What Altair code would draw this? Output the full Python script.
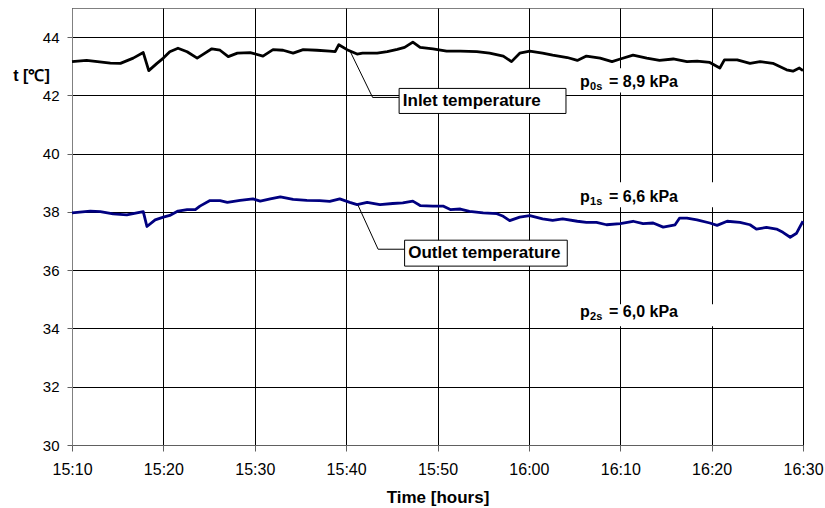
import altair as alt
import pandas as pd

# ---- data (minutes after 15:10, temperature in °C) ----
inlet_t = [0, 1.6, 4.2, 5.3, 6.7, 7.8, 8.4, 9.3, 10.0, 10.7, 11.6, 12.6, 13.7, 14.3, 15.3, 16.2,
           17.1, 18.1, 19.5, 20.9, 22.0, 23.1, 24.2, 25.3, 26.8, 28.2, 28.8, 29.2, 30.1, 31.2,
           31.8, 33.4, 34.5, 35.6, 36.4, 37.3, 38.1, 39.5, 41.0, 42.5, 44.3, 45.7, 47.2, 48.1,
           49.0, 50.1, 51.5, 52.6, 54.2, 55.3, 56.3, 57.8, 59.1, 60.0, 61.4, 62.9, 64.3, 65.8,
           67.3, 68.4, 69.8, 70.9, 71.4, 72.8, 74.2, 75.3, 76.7, 78.2, 78.9, 79.6, 80]
inlet_v = [43.16, 43.2, 43.11, 43.1, 43.28, 43.47, 42.85, 43.1, 43.28, 43.5, 43.62, 43.5, 43.28,
           43.4, 43.6, 43.55, 43.33, 43.45, 43.47, 43.35, 43.57, 43.55, 43.45, 43.57, 43.55,
           43.52, 43.5, 43.74, 43.57, 43.42, 43.45, 43.45, 43.5, 43.58, 43.65, 43.83, 43.65,
           43.6, 43.52, 43.52, 43.5, 43.45, 43.35, 43.16, 43.45, 43.52, 43.45, 43.38, 43.3,
           43.2, 43.35, 43.28, 43.16, 43.25, 43.38, 43.28, 43.2, 43.25, 43.16, 43.18, 43.13,
           42.94, 43.22, 43.22, 43.1, 43.16, 43.1, 42.88, 42.83, 42.94, 42.85]

outlet_t = [0, 2.0, 3.1, 4.5, 6.0, 7.1, 7.8, 8.2, 9.1, 10.0, 10.7, 11.6, 12.6, 13.5, 14.0, 15.1,
            16.2, 17.0, 18.4, 19.8, 20.6, 21.7, 22.8, 24.2, 25.7, 27.1, 28.2, 29.3, 30.4, 31.2,
            32.3, 33.7, 35.1, 36.2, 37.3, 38.1, 39.5, 40.6, 41.4, 42.5, 43.5, 45.0, 46.5, 47.2,
            47.9, 49.0, 50.1, 51.5, 52.6, 53.7, 55.3, 56.3, 57.4, 58.5, 60.0, 61.4, 62.5, 63.6,
            64.7, 66.0, 66.5, 67.3, 68.4, 69.8, 70.6, 71.7, 73.1, 74.2, 74.9, 76.0, 77.1, 77.8,
            78.6, 79.3, 79.6, 80]
outlet_v = [37.97, 38.03, 38.01, 37.93, 37.9, 37.97, 38.01, 37.5, 37.73, 37.82, 37.88, 38.03,
            38.08, 38.08, 38.2, 38.39, 38.39, 38.33, 38.4, 38.45, 38.37, 38.45, 38.52, 38.43,
            38.4, 38.39, 38.36, 38.45, 38.33, 38.25, 38.33, 38.25, 38.29, 38.31, 38.37, 38.22,
            38.2, 38.2, 38.08, 38.1, 38.02, 37.97, 37.94, 37.85, 37.7, 37.82, 37.87, 37.76,
            37.71, 37.76, 37.68, 37.64, 37.64, 37.56, 37.6, 37.68, 37.6, 37.62, 37.48, 37.56,
            37.79, 37.79, 37.73, 37.62, 37.54, 37.68, 37.64, 37.56, 37.41, 37.47, 37.41, 37.3,
            37.13, 37.27, 37.45, 37.68]

x_ticks = [0, 10, 20, 30, 40, 50, 60, 70, 80]
y_ticks = [30, 32, 34, 36, 38, 40, 42, 44]

# annotation callouts
callout_text = ["Inlet temperature", "Outlet temperature"]
callout_x1 = [35.8, 36.4]
callout_x2 = [54.06, 54.2]
callout_y1 = [42.24, 37.03]
callout_y2 = [41.38, 36.14]
callout_tx = [36.2, 36.8]
callout_ty = [41.81, 36.58]
leader_group = ["in", "in", "in", "out", "out", "out"]
leader_t = [30.4, 32.9, 35.8, 31.3, 33.5, 36.4]
leader_v = [43.54, 41.93, 41.93, 38.23, 36.72, 36.72]

# pressure labels
p_sub = ["0s", "1s", "2s"]
p_val = ["= 8,9 kPa", "= 6,6 kPa", "= 6,0 kPa"]
p_x = [55.6, 55.6, 55.6]
p_y = [42.29, 38.34, 34.4]
pbox_x1 = [55.0, 55.0, 55.0]
pbox_x2 = [67.6, 70.6, 70.3]
pbox_y1 = [42.93, 39.02, 34.83]
pbox_y2 = [42.10, 38.16, 34.08]

FONT = "Liberation Sans"

lines_df = pd.concat([
    pd.DataFrame({"t": inlet_t, "v": inlet_v, "s": "Inlet"}),
    pd.DataFrame({"t": outlet_t, "v": outlet_v, "s": "Outlet"}),
])
callout_df = pd.DataFrame({"text": callout_text, "x1": callout_x1, "x2": callout_x2,
                           "y1": callout_y1, "y2": callout_y2, "tx": callout_tx, "ty": callout_ty})
leader_df = pd.DataFrame({"g": leader_group, "t": leader_t, "v": leader_v})
p_df = pd.DataFrame({"sub": p_sub, "val": p_val, "x": p_x, "y": p_y,
                     "x1": pbox_x1, "x2": pbox_x2, "y1": pbox_y1, "y2": pbox_y2})

label_expr = ("floor((910+datum.value)/60) + ':' + "
              "(((910+datum.value)%60) < 10 ? '0' : '') + ((910+datum.value)%60)")

xscale = alt.Scale(domain=[0, 80], nice=False, zero=False)
yscale = alt.Scale(domain=[30, 45], nice=False, zero=False)

x_enc = alt.X("t:Q", scale=xscale,
              axis=alt.Axis(values=x_ticks, labelExpr=label_expr, title="Time [hours]",
                            grid=True, gridColor="#000000", gridWidth=1,
                            domainColor="#606060", tickColor="#606060", tickSize=6,
                            labelFontSize=16, labelPadding=10, labelColor="#000",
                            labelAlign="center", labelFlush=False, labelOverlap=False,
                            titleFontSize=17, titleFontWeight="bold", titlePadding=12,
                            titleColor="#000", labelFont=FONT, titleFont=FONT))
y_enc = alt.Y("v:Q", scale=yscale,
              axis=alt.Axis(values=y_ticks, title="t [℃]", grid=True, gridColor="#000000",
                            gridWidth=1, domainColor="#808080", tickColor="#606060",
                            tickSize=5, labelFontSize=15, labelPadding=8, labelColor="#000",
                            labelFlush=False,
                            titleAngle=0, titleX=-41, titleY=72, titleAlign="center",
                            titleBaseline="alphabetic", titleFontSize=16,
                            titleFontWeight="bold", titleColor="#000",
                            labelFont=FONT, titleFont=FONT))

base_lines = alt.Chart(lines_df).mark_line(strokeWidth=2.8, strokeJoin="round").encode(
    x=x_enc, y=y_enc,
    color=alt.Color("s:N", scale=alt.Scale(domain=["Inlet", "Outlet"],
                                           range=["#000000", "#000080"]), legend=None),
)

pboxes = alt.Chart(p_df).mark_rect(fill="white").encode(
    x="x1:Q", x2="x2:Q", y="y1:Q", y2="y2:Q")

leaders = alt.Chart(leader_df).mark_line(color="#000", strokeWidth=1).encode(
    x="t:Q", y="v:Q", detail="g:N", order=alt.Order("t:Q"))

boxes = alt.Chart(callout_df).mark_rect(fill="white", stroke="#000", strokeWidth=1).encode(
    x="x1:Q", x2="x2:Q", y="y1:Q", y2="y2:Q")

box_text = alt.Chart(callout_df).mark_text(
    align="left", baseline="middle", font=FONT, fontSize=17, fontWeight="bold", color="#000"
).encode(x="tx:Q", y="ty:Q", text="text:N")

p_main = alt.Chart(p_df).mark_text(
    align="left", baseline="alphabetic", font=FONT, fontSize=16, fontWeight="bold", color="#000"
).encode(x="x:Q", y="y:Q", text=alt.value("p"))
p_subt = alt.Chart(p_df).mark_text(
    align="left", baseline="alphabetic", font=FONT, fontSize=11, fontWeight="bold", color="#000",
    dx=10, dy=3
).encode(x="x:Q", y="y:Q", text="sub:N")
p_rest = alt.Chart(p_df).mark_text(
    align="left", baseline="alphabetic", font=FONT, fontSize=16, fontWeight="bold", color="#000",
    dx=29
).encode(x="x:Q", y="y:Q", text="val:N")

chart = alt.layer(
    pboxes, base_lines, leaders, boxes, box_text, p_main, p_subt, p_rest
).properties(
    width=731, height=437,
    autosize=alt.AutoSizeParams(type="none"),
    padding={"left": 72, "top": 8, "right": 22, "bottom": 63},
    background="white",
).configure_view(stroke="#808080", strokeWidth=1)

chart.save("out.html", embed_options={"renderer": "svg", "actions": False})
